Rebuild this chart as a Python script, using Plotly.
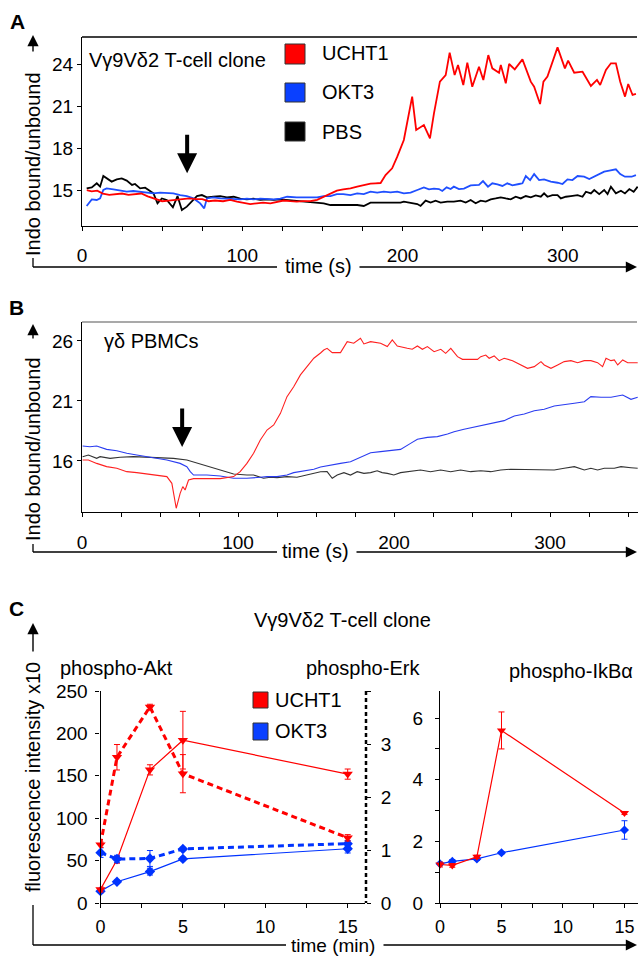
import plotly.graph_objects as go

FONT = "Liberation Sans, Arial, Helvetica, sans-serif"
W, H = 638, 957

# ---------------- Panel A : Vg9Vd2 T-cell clone (Indo ratio vs time, s) -------------
A_RED_T = [3, 6, 9.5, 13, 17, 21, 25, 29, 33, 37, 41, 46, 50, 54, 58, 63, 67, 71, 75, 79, 83, 88,
           92.5, 96.7, 100.8, 105, 109, 113, 117.5, 121.7, 125.8, 130, 134, 138, 142.5, 146.7, 150.8,
           155, 159, 163, 167.5, 171.7, 175.8, 180, 183.1, 186.3, 189.4, 193.5, 196.7, 200.8, 206,
           208.5, 213.3, 217.1, 219.6, 223.3, 226.9, 229.4, 232.5, 234.6, 237.9, 240.4, 243.5, 247.7,
           250.4, 253.5, 256, 260.2, 261.3, 264.4, 266.5, 270, 274.8, 280, 282.1, 285.8, 287.9, 290.4,
           296.7, 301.3, 303.3, 307.1, 312.3, 317.5, 321.3, 323.3, 326.9, 330, 333.1, 335.8, 338.8,
           340.8, 343.5, 345.6]
A_RED_V = [15.0, 14.9, 14.95, 14.75, 14.65, 14.7, 14.75, 14.65, 14.7, 14.75, 14.55, 14.35, 14.2, 14.25,
           14.3, 14.35, 14.4, 14.35, 14.35, 14.2, 14.25, 14.2,
           14.3, 14.17, 14.1, 14.0, 14.05, 14.1, 14.05, 14.17, 14.25, 14.2, 14.17, 14.2, 14.2, 14.3, 14.5,
           14.75, 14.95, 15.05, 15.12, 15.24, 15.36, 15.45, 15.48, 15.5, 16.07, 16.55, 17.38, 18.57, 21.67,
           19.29, 19.64, 18.69, 20.48, 22.74, 23.21, 24.81, 23.21, 23.93, 22.5, 24.1, 22.38, 23.81,
           22.86, 24.64, 23.69, 23.38, 23.93, 22.62, 24.0, 23.62, 24.33, 22.74, 22.38, 21.14, 22.74, 23.1,
           25.19, 23.69, 24.24, 23.38, 23.45, 22.43, 22.86, 22.5, 23.57, 24.05, 24.05, 22.74, 21.67,
           22.57, 21.79, 21.86]

A_BLUE_T = [2.9, 6.1, 9.2, 11.3, 13.3, 15.4, 19.6, 23.75, 27.9, 32, 36.25, 40.4, 44.6, 48.75, 52.9, 57,
            61.25, 65.4, 69.6, 73.75, 76.25, 77.9, 82, 86.25, 90.4, 94.6, 98.75, 102.9, 107, 111.25,
            115.4, 119.6, 123.75, 128, 134, 138, 142.5, 146.7, 150.8, 155, 159, 163, 167.5, 171.7,
            175.8, 180, 184.2, 188.3, 192.5, 196.7, 200.8, 205, 209.2, 213.3, 216.5, 219.6, 222.7,
            224.8, 227.5, 230, 232, 235.2, 238.3, 242.5, 247.7, 250.2, 253.3, 256, 259.2, 262.3, 265.4,
            268.5, 272.7, 274.8, 276.9, 279.6, 282.1, 285.2, 288.3, 292.5, 296.7, 299.8, 302.9, 306,
            309.2, 313.3, 316.5, 321.7, 325.8, 329, 333.1, 335.8, 338.75, 342.9, 345.6]
A_BLUE_V = [13.86, 14.33, 14.29, 14.4, 15.0, 15.12, 15.05, 14.95, 14.88, 14.93, 14.88, 14.86, 14.76,
            14.81, 14.81, 14.76, 14.64, 14.57, 14.4, 14.05, 13.69, 14.4, 14.48, 14.4, 14.38, 14.33,
            14.33, 14.38, 14.33, 14.38, 14.33, 14.33, 14.38, 14.52, 14.48, 14.48, 14.52, 14.48, 14.57,
            14.57, 14.71, 14.71, 14.64, 14.76, 14.71, 14.88, 14.81, 14.88, 14.83, 14.88, 14.76, 14.81,
            15.0, 15.19, 15.05, 15.1, 15.07, 14.93, 15.19, 15.07, 15.24, 15.07, 15.1, 15.33, 15.36,
            15.64, 15.24, 15.48, 15.4, 15.29, 15.48, 15.33, 15.43, 15.48, 16.0, 15.71, 16.14, 15.71,
            15.76, 15.6, 15.52, 15.43, 15.76, 15.71, 16.0, 15.95, 15.79, 16.07, 16.31, 16.38, 16.48,
            16.14, 15.95, 15.95, 16.07]

A_BLACK_T = [2.9, 6.1, 9.2, 11.3, 13.3, 15.4, 18.5, 21.7, 24.8, 27.9, 31.2, 33.1, 36.25, 39.4, 42.5,
             44.6, 47.1, 49.8, 52.9, 56.7, 59.6, 62.3, 65.4, 68.5, 71.7, 74.8, 77.9, 82, 86.25, 90.4,
             94.6, 98.75, 102.9, 107, 111.25, 115.4, 119.6, 123.75, 128, 134, 142.5, 146.7, 150.8, 155,
             163, 171.7, 175.8, 180, 186.25, 192.5, 198.75, 200.8, 205, 209.2, 211.25, 214.4, 217.5,
             220.6, 223.75, 227.9, 232, 236.25, 239.4, 242.5, 245.6, 248.75, 251.9, 255, 258.1, 261.25,
             264.4, 267.5, 270.6, 273.75, 276.9, 280, 283.1, 286.25, 288.3, 290.4, 293.5, 296.7, 298.75,
             301.9, 305, 309.2, 312.3, 314.4, 317.5, 319.6, 322.7, 325.8, 327.9, 330, 333.1, 336.25,
             338.75, 341.5, 344.2, 346.7]
A_BLACK_V = [15.12, 15.19, 15.48, 15.24, 16.0, 15.83, 15.6, 15.76, 15.83, 15.67, 15.36, 15.43, 15.12,
             15.17, 14.95, 14.76, 14.05, 14.4, 14.29, 13.76, 14.57, 13.57, 13.81, 14.17, 14.57, 14.64,
             14.48, 14.52, 14.57, 14.48, 14.52, 14.38, 14.33, 14.38, 14.29, 14.33, 14.29, 14.33, 14.29,
             14.24, 14.17, 14.1, 14.05, 13.93, 13.93, 13.93, 13.86, 14.1, 14.1, 14.1, 14.1, 14.17, 14.1,
             14.0, 13.86, 14.24, 14.1, 14.24, 14.1, 14.17, 14.17, 14.24, 14.1, 14.29, 14.05, 14.24,
             14.17, 14.33, 14.4, 14.48, 14.4, 14.33, 14.52, 14.4, 14.57, 14.48, 14.62, 14.52, 14.76,
             14.52, 14.64, 14.64, 14.4, 14.52, 14.57, 14.64, 14.52, 14.88, 14.76, 15.0, 14.71, 15.0,
             14.71, 15.24, 14.76, 14.95, 14.76, 15.07, 14.88, 15.24]

# ---------------- Panel B : gd PBMCs ----------------
B_RED_T = [0.4, 4.1, 9.4, 15.8, 22.3, 28.7, 35.1, 41.5, 47.9, 54.4, 57.6, 60.4, 62.9, 64.6, 66.1, 68.3,
           71.5, 80.1, 88.6, 97.2, 101.4, 105.7, 110, 114.3, 118.6, 122.9, 127.2, 131.4, 135.7, 140,
           144.3, 148.6, 152.9, 155, 157.1, 160.4, 165.7, 170, 174.2, 178.5, 180.7, 185, 191.4, 195.7,
           198.9, 202.1, 208.5, 211.7, 215, 218.2, 221.4, 225.7, 230, 233.1, 236.4, 240.7, 243.9,
           253.5, 255.6, 258.8, 261, 264.2, 267.4, 270.6, 276, 281.3, 285.6, 289.9, 294.2, 296.3,
           300.6, 304.9, 309.1, 313.4, 317.7, 322, 326.2, 330.5, 333.7, 335.9, 339.1, 341.2, 343.4,
           346.6, 349.8, 356.2]
B_RED_V = [16.08, 16.08, 15.8, 15.53, 15.39, 15.11, 15.03, 14.92, 14.83, 14.7, 14.14, 12.06, 13.3, 13.86,
           13.58, 14.42, 14.53, 14.53, 14.53, 14.7, 15.11, 15.8, 16.64, 17.75, 18.58, 19.0, 19.97, 21.36,
           22.19, 23.17, 23.86, 24.56, 25.0, 25.25, 25.39, 25.03, 25.03, 25.94, 25.81, 26.22, 25.75,
           25.94, 25.81, 25.53, 26.08, 25.58, 25.39, 25.31, 25.58, 25.31, 25.53, 25.11, 25.31, 24.97,
           25.39, 24.69, 24.47, 24.47, 24.69, 24.83, 24.56, 24.75, 24.36, 24.56, 24.36, 24.0, 23.72,
           23.86, 24.28, 24.0, 23.72, 24.0, 24.28, 24.36, 24.19, 24.36, 24.36, 24.19, 23.86, 24.56,
           24.36, 24.42, 24.0, 24.42, 24.19, 24.19]

B_BLUE_T = [0.4, 5.1, 9.4, 15.8, 22.3, 28.7, 35.1, 41.5, 47.9, 54.4, 62.9, 67.2, 69.4, 71.5, 80.1, 88.6,
            97.2, 105.7, 114.3, 118.6, 125, 131.4, 135.7, 140, 144.3, 148.6, 152.9, 159.3, 165.7,
            172.1, 178.5, 185, 191.4, 197.8, 204.2, 210.6, 215, 221.4, 227.8, 234.3, 238.5, 244.9,
            251.4, 257.8, 264.2, 270.6, 277.1, 283.5, 289.9, 296.3, 302.7, 309.1, 315.6, 322, 326.2,
            332.7, 339.1, 346.6, 351.9, 356.2]
B_BLUE_V = [17.25, 17.19, 17.25, 16.97, 16.86, 16.64, 16.5, 16.36, 16.22, 16.08, 15.8, 15.53, 15.11,
            14.83, 14.83, 14.75, 14.56, 14.56, 14.64, 14.7, 14.7, 14.83, 15.03, 15.11, 15.25, 15.31,
            15.5, 15.67, 15.8, 15.94, 16.31, 16.69, 16.78, 16.86, 16.97, 17.47, 17.81, 17.97, 18.03,
            18.25, 18.44, 18.64, 18.81, 19.0, 19.19, 19.36, 19.75, 19.92, 20.19, 20.31, 20.58, 20.67,
            20.81, 20.94, 21.36, 21.31, 21.31, 21.5, 21.14, 21.31]

B_BLACK_T = [0.4, 4.1, 9.4, 11.6, 18, 24.4, 33, 41.5, 50, 58.6, 67.2, 75.7, 84.3, 92.8, 97.2, 105.7, 110,
             116.4, 120.7, 125, 131.4, 137.8, 144.3, 152.9, 157.1, 160.4, 163.6, 167.9, 172.1, 176.4,
             180.7, 185, 189.2, 192.4, 195.7, 199.9, 204.2, 210.6, 217, 223.4, 229.9, 236.3, 242.7,
             249.1, 255.6, 262, 268.4, 274.8, 283.4, 289.9, 296.3, 302.7, 309.1, 315.6, 322, 326.2,
             330.5, 334.8, 341.2, 345.5, 351.9, 356.2]
B_BLACK_V = [16.36, 16.5, 16.22, 16.36, 16.22, 16.31, 16.36, 16.31, 16.31, 16.22, 16.08, 15.75, 15.39,
             15.03, 14.92, 14.83, 14.83, 14.56, 14.64, 14.61, 14.7, 14.64, 14.83, 15.1, 15.11, 14.56,
             14.83, 15.03, 14.83, 15.11, 14.97, 15.03, 15.19, 15.03, 14.97, 14.83, 15.03, 15.11, 15.25,
             15.11, 15.25, 15.11, 15.25, 15.11, 15.19, 15.11, 15.25, 15.31, 15.31, 15.25, 15.31, 15.25,
             15.39, 15.53, 15.25, 15.39, 15.25, 15.39, 15.39, 15.53, 15.44, 15.39]

# ---------------- Panel C : phospho-flow (time in min) ----------------
C_TIME = [0, 1, 3, 5, 15]
AKT_UCHT1 = [16, 51, 157, 192, 152]
AKT_UCHT1_ERR = [3, 4, 6, 34, 6]
AKT_OKT3 = [14, 25, 37, 52, 64]
AKT_OKT3_ERR = [2, 2, 4, 2, 5]
ERK_UCHT1 = [1.1, 2.75, 3.7, 2.44, 1.23]
ERK_UCHT1_ERR = [0.05, 0.24, 0.05, 0.36, 0.06]
ERK_OKT3 = [0.95, 0.83, 0.84, 1.02, 1.12]
ERK_OKT3_ERR = [0.09, 0.07, 0.15, 0.03, 0.06]
IKB_UCHT1 = [1.25, 1.22, 1.5, 5.6, 2.92]
IKB_UCHT1_ERR = [0.08, 0.06, 0.05, 0.6, 0.05]
IKB_OKT3 = [1.27, 1.35, 1.43, 1.63, 2.37]
IKB_OKT3_ERR = [0.04, 0.06, 0.05, 0.04, 0.3]

RED, BLUE, BLACK = "#ff0000", "#1f4fff", "#000000"


def px(x, y):
    return x / W, 1 - y / H


fig = go.Figure()

# Panel A
for t, v, c in [(A_BLACK_T, A_BLACK_V, BLACK), (A_BLUE_T, A_BLUE_V, BLUE), (A_RED_T, A_RED_V, RED)]:
    fig.add_trace(go.Scatter(x=t, y=v, mode="lines", line=dict(color=c, width=1.8),
                             xaxis="x", yaxis="y", showlegend=False))
# Panel B
for t, v, c in [(B_BLACK_T, B_BLACK_V, "#333333"), (B_BLUE_T, B_BLUE_V, "#2a3cf0"), (B_RED_T, B_RED_V, "#ff2020")]:
    fig.add_trace(go.Scatter(x=t, y=v, mode="lines", line=dict(color=c, width=1.1),
                             xaxis="x2", yaxis="y2", showlegend=False))


def pts(x, y, err, color, symbol, size, dash, width, xa, ya):
    fig.add_trace(go.Scatter(
        x=x, y=y, mode="lines+markers", xaxis=xa, yaxis=ya, showlegend=False, cliponaxis=False,
        line=dict(color=color, width=width, dash=dash),
        marker=dict(color=color, symbol=symbol, size=size),
        error_y=dict(type="data", array=err, color=color, thickness=1, width=3)))


# Panel C - Akt (solid) and Erk (dashed, right axis)
pts(C_TIME, AKT_OKT3, AKT_OKT3_ERR, "#0033ff", "diamond", 8, "solid", 1.2, "x3", "y3")
pts(C_TIME, AKT_UCHT1, AKT_UCHT1_ERR, RED, "triangle-down", 9, "solid", 1.2, "x3", "y3")
pts(C_TIME, ERK_OKT3, ERK_OKT3_ERR, "#0033ff", "diamond", 8, "6px,4px", 3, "x3", "y4")
pts(C_TIME, ERK_UCHT1, ERK_UCHT1_ERR, RED, "triangle-down", 9, "6px,4px", 3, "x3", "y4")
# Panel C - IkBa
pts(C_TIME, IKB_OKT3, IKB_OKT3_ERR, "#0033ff", "diamond", 7, "solid", 1.2, "x5", "y5")
pts(C_TIME, IKB_UCHT1, IKB_UCHT1_ERR, RED, "triangle-down", 8, "solid", 1.2, "x5", "y5")

tickfont = dict(family=FONT, size=19, color="black")
tickfont_c = dict(family=FONT, size=18, color="black")
base = dict(showgrid=False, zeroline=False, showline=True, linecolor="black", linewidth=1.2,
            ticks="outside", ticklen=4, tickcolor="black", tickwidth=1, tickfont=tickfont,
            automargin=False)

ya_dom = [px(0, 226)[1], px(0, 37)[1]]
yb_dom = [px(0, 512)[1], px(0, 322)[1]]
yc_dom = [px(0, 903)[1], px(0, 691)[1]]

fig.update_layout(
    width=W, height=H, margin=dict(l=0, r=0, t=0, b=0, pad=0, autoexpand=False), autosize=False,
    paper_bgcolor="white", plot_bgcolor="white", showlegend=False,
    xaxis=dict(base, domain=[82 / W, 1], range=[0, 346.9], anchor="y", tickvals=[0, 100, 200, 300],
               minor=dict(dtick=25, tick0=0, ticks="outside", ticklen=4, tickcolor="black"),
               ticklabelstandoff=8),
    yaxis=dict(base, domain=ya_dom, range=[12.43, 25.93], anchor="x", tickvals=[15, 18, 21, 24]),
    xaxis2=dict(base, domain=[82 / W, 1], range=[0, 356.4], anchor="y2", tickvals=[0, 100, 200, 300],
                minor=dict(dtick=25, tick0=0, ticks="outside", ticklen=4, tickcolor="black"),
                ticklabelstandoff=9),
    yaxis2=dict(base, domain=yb_dom, range=[11.75, 27.58], anchor="x2", tickvals=[16, 21, 26]),
    xaxis3=dict(base, domain=[100.5 / W, 365 / W], range=[0, 16.05], anchor="y3", tickvals=[0, 5, 10, 15],
                minor=dict(dtick=2.5, tick0=0, ticks="outside", ticklen=4, tickcolor="black"),
                ticklabelstandoff=3, tickfont=tickfont_c),
    yaxis3=dict(base, domain=yc_dom, range=[0, 250], anchor="x3", tickvals=[0, 50, 100, 150, 200, 250],
                ticklabelstandoff=4),
    yaxis4=dict(base, overlaying="y3", anchor="free", position=366 / W, side="right", range=[0, 4],
                showline=False, tickvals=[0, 1, 2, 3, 4], ticktext=["0", "1", "2", "3", ""],
                ticklabelstandoff=6),
    xaxis5=dict(base, domain=[440 / W, 1], range=[0, 16.1], anchor="y5", tickvals=[0, 5, 10, 15],
                minor=dict(dtick=2.5, tick0=0, ticks="outside", ticklen=4, tickcolor="black"),
                ticklabelstandoff=3, tickfont=tickfont_c),
    yaxis5=dict(base, domain=yc_dom, range=[0, 6.88], anchor="x5", tickvals=[0, 2, 4, 6],
                minor=dict(dtick=1, tick0=0, ticks="outside", ticklen=4, tickcolor="black"),
                ticklabelstandoff=8),
)

shapes = []


def pline(x0, y0, x1, y1, color="black", width=1.3, dash=None):
    a, b = px(x0, y0)
    c, d = px(x1, y1)
    shapes.append(dict(type="line", xref="paper", yref="paper", x0=a, y0=b, x1=c, y1=d,
                       line=dict(color=color, width=width, dash=dash)))


def prect(x0, y0, x1, y1, fill):
    a, b = px(x0, y0)
    c, d = px(x1, y1)
    shapes.append(dict(type="rect", xref="paper", yref="paper", x0=a, y0=b, x1=c, y1=d,
                       fillcolor=fill, line=dict(color="#333333", width=1)))


# box tops
pline(82, 37, 637, 37, "black", 1.3)
pline(82, 322, 637, 322, "#555555", 1.2)
# Erk dashed axis
pline(366, 691, 366, 903, "black", 2.5, "4px,3px")
# brackets of axis titles
pline(33, 258, 33, 267); pline(33, 267, 277, 267)
pline(33, 544, 33, 552); pline(33, 552, 277, 552)
pline(33, 905, 33, 945); pline(33, 945, 286, 945)
# legend squares
prect(285, 44, 305, 64, RED)
prect(285, 83, 305, 102, "#0a40ff")
prect(285, 122, 305, 141, "black")
prect(253, 692, 268, 708, RED)
prect(253, 723, 268, 740, "#0a40ff")
fig.update_layout(shapes=shapes)

anns = []


def text(s, x, y, size=20, xanchor="center", angle=0, bold=False):
    a, b = px(x, y)
    if bold:
        s = "<b>" + s + "</b>"
    anns.append(dict(text=s, x=a, y=b, xref="paper", yref="paper", showarrow=False,
                     xanchor=xanchor, yanchor="middle", textangle=angle,
                     font=dict(family=FONT, size=size, color="black")))


def parrow(x0, y0, x1, y1, width=1.4, size=1.6):
    a, b = px(x1, y1)
    anns.append(dict(text="", x=a, y=b, xref="paper", yref="paper", showarrow=True,
                     ax=x0 - x1, ay=y0 - y1, axref="pixel", ayref="pixel",
                     arrowhead=2, arrowsize=size, arrowwidth=width, arrowcolor="black"))


text("A", 17, 21, 21, bold=True)
text("B", 16, 307, 21, bold=True)
text("C", 16, 608, 21, bold=True)

text("V\u03b39V\u03b42 T-cell clone", 87, 60, 20, xanchor="left")
text("UCHT1", 320, 53, 20, xanchor="left")
text("OKT3", 320, 92, 20, xanchor="left")
text("PBS", 320, 132, 20, xanchor="left")
text("Indo bound/unbound", 33, 164, 20, angle=-90)
text("time (s)", 318, 266, 20)
parrow(33, 53, 33, 35)
parrow(358, 267, 637, 267)

text("\u03b3\u03b4 PBMCs", 102, 341, 20, xanchor="left")
text("Indo bound/unbound", 33, 449, 20, angle=-90)
text("time (s)", 315, 551, 20)
parrow(33, 340, 33, 324)
parrow(355, 552, 637, 552)

text("V\u03b39V\u03b42 T-cell clone", 342, 620, 20)
text("phospho-Akt", 116, 668, 20)
text("phospho-Erk", 363, 668, 20)
text("phospho-IkB\u03b1", 571, 671, 20)
text("UCHT1", 273, 700, 20, xanchor="left")
text("OKT3", 273, 731, 20, xanchor="left")
text("fluorescence intensity x10", 33, 777, 20, angle=-90)
text("time (min)", 333, 945, 19)
parrow(382, 945, 637, 945)
parrow(33, 653, 33, 623)

# stimulus arrows (data coordinates)
anns.append(dict(text="", x=65.6, y=16.2, xref="x", yref="y", showarrow=True, ax=0, ay=-40,
                 arrowhead=2, arrowsize=1.0, arrowwidth=4, arrowcolor="black"))
anns.append(dict(text="", x=64.2, y=17.17, xref="x2", yref="y2", showarrow=True, ax=0, ay=-40,
                 arrowhead=2, arrowsize=1.0, arrowwidth=4, arrowcolor="black"))

fig.update_layout(annotations=anns)
fig.write_html("out.html", config={"responsive": False, "displayModeBar": False},
               post_script="document.body.style.margin='0';document.body.style.overflow='hidden';")
